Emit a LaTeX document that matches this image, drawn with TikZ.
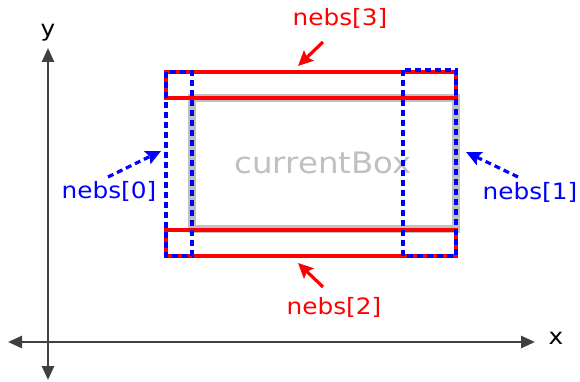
\documentclass[tikz,border=0pt]{standalone}
\usepackage{fontspec}
\setmainfont{DejaVu Sans}[FakeStretch=1.1]
\usetikzlibrary{arrows.meta}
\definecolor{axisgray}{HTML}{404040}
\definecolor{boxgray}{HTML}{C0C0C0}
\tikzset{
  axis/.style={draw=axisgray, line width=2.6pt, {Triangle[length=14pt,width=12pt]}-{Triangle[length=14pt,width=12pt]}},
  redrect/.style={draw=red, line width=3.2pt},
  bluerect/.style={draw=blue, line width=3.2pt, dash pattern=on 6pt off 4pt},
  lbl/.style={font=\fontsize{22.5}{24}\selectfont, inner sep=0pt},
  redptr/.style={draw=red, line width=3.2pt, -{Stealth[length=15pt,width=14pt,inset=2.5pt]}},
  blueptr/.style={draw=blue, line width=3.2pt, dash pattern=on 6pt off 4pt, -{Stealth[length=15pt,width=14pt,inset=2.5pt]}},
}
\begin{document}
\begin{tikzpicture}[x=1pt,y=-1pt]
\useasboundingbox (0,0) rectangle (580,382);
% axes
\coordinate (xl) at (8,342);
\coordinate (xr) at (535,342);
\coordinate (yt) at (48,48);
\coordinate (yb) at (48,380);
\draw[axis] (xl) -- (xr);
\draw[axis] (yb) -- (yt);
\node[lbl, text=black] (xlab) at (556,338) {x};
\node[lbl, text=black] (ylab) at (48,33) {y};
% current box
\draw[draw=boxgray, line width=7.5pt] (192,98) rectangle (456,229);
\node[font=\fontsize{29.5}{32}\selectfont, text=boxgray, inner sep=0pt] (cb) at (323,163) {currentBox};
% red rects
\draw[redrect] (166,72) rectangle (456,98);
\draw[redrect] (166,230) rectangle (456,256);
% blue rects
\draw[bluerect] (166,72) rectangle (192,256);
\draw[bluerect] (403,70) rectangle (456,256);
% labels
\node[lbl, text=red] (n3) at (340,18) {nebs[3]};
\node[lbl, text=red] (n2) at (334,307) {nebs[2]};
\node[lbl, text=blue] (n0) at (109,191) {nebs[0]};
\node[lbl, text=blue] (n1) at (530,192) {nebs[1]};
% pointers
\coordinate (t3) at (298,66);
\coordinate (t2) at (298,263);
\coordinate (t0) at (161,151);
\coordinate (t1) at (466,152);
\coordinate (s3) at (323,42);
\coordinate (s2) at (323,287);
\coordinate (s0) at (108,177);
\coordinate (s1) at (518,177);
\draw[redptr] (s3) -- (t3);
\draw[redptr] (s2) -- (t2);
\draw[blueptr] (s0) -- (t0);
\draw[blueptr] (s1) -- (t1);
\end{tikzpicture}
\end{document}
